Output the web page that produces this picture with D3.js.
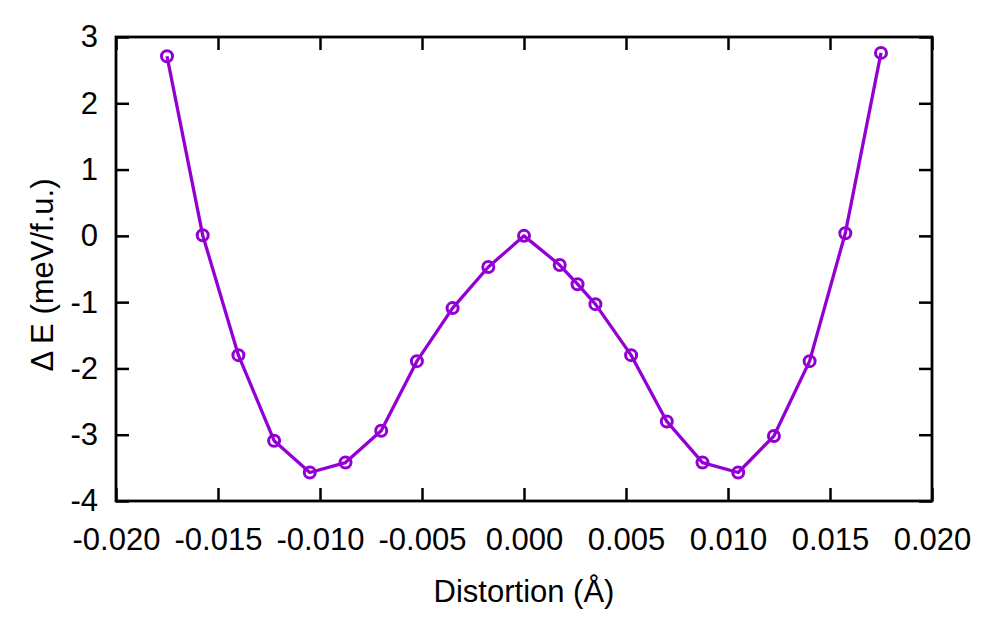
<!DOCTYPE html>
<html>
<head>
<meta charset="utf-8">
<script src="https://cdn.jsdelivr.net/npm/d3@7"></script>
<style>
  html, body { margin: 0; padding: 0; background: #fff; }
  svg { display: block; }
  text { font-family: "Liberation Sans", Arial, sans-serif; fill: #000; }
</style>
</head>
<body>
<svg id="chart" width="987" height="617"></svg>
<script>
// Data
const distortion = [-0.0175, -0.01575, -0.014, -0.01225, -0.0105, -0.00875, -0.007, -0.00525, -0.0035, -0.00175, 0,
                    0.00175, 0.002625, 0.0035, 0.00525, 0.007, 0.00875, 0.0105, 0.01225, 0.014, 0.01575, 0.0175];
const deltaE = [2.71, 0.01, -1.80, -3.09, -3.57, -3.42, -2.94, -1.89, -1.09, -0.47, 0.0,
                -0.44, -0.73, -1.03, -1.80, -2.80, -3.42, -3.57, -3.02, -1.89, 0.04, 2.76];
const xTicks = [-0.020, -0.015, -0.010, -0.005, 0.000, 0.005, 0.010, 0.015, 0.020];
const yTicks = [-4, -3, -2, -1, 0, 1, 2, 3];
const xLabel = "Distortion (Å)";
const yLabel = "Δ E (meV/f.u.)";

const svg = d3.select("#chart");
const mLeft = 116, mRight = 932, mTop = 37, mBottom = 501;
const color = "#9400d3";

const x = d3.scaleLinear().domain([-0.02, 0.02]).range([mLeft, mRight]);
const y = d3.scaleLinear().domain([-4, 3]).range([mBottom, mTop]);

const tickLen = 13;
const fs = 31;

const gx = svg.append("g").attr("transform", `translate(0,${mBottom})`)
  .call(d3.axisBottom(x).tickValues(xTicks).tickFormat(d3.format(".3f")).tickSizeInner(-tickLen).tickSizeOuter(0).tickPadding(27));
const gxTop = svg.append("g").attr("transform", `translate(0,${mTop})`)
  .call(d3.axisTop(x).tickValues(xTicks).tickFormat("").tickSizeInner(-tickLen).tickSizeOuter(0));
const gy = svg.append("g").attr("transform", `translate(${mLeft},0)`)
  .call(d3.axisLeft(y).tickValues(yTicks).tickFormat(d3.format("d")).tickSizeInner(-tickLen).tickSizeOuter(0).tickPadding(18));
const gyR = svg.append("g").attr("transform", `translate(${mRight},0)`)
  .call(d3.axisRight(y).tickValues(yTicks).tickFormat("").tickSizeInner(-tickLen).tickSizeOuter(0));

[gx, gxTop, gy, gyR].forEach(g => {
  g.select(".domain").remove();
  g.selectAll(".tick line").attr("stroke", "#000").attr("stroke-width", 2.5);
  g.selectAll(".tick text").attr("font-size", fs).attr("font-family", "Liberation Sans, Arial, sans-serif").attr("fill", "#000");
});
gx.selectAll(".tick text").text(d => d3.format(".3f")(d).replace("−", "-"));
gy.selectAll(".tick text").text(d => String(d));

svg.append("rect").attr("x", mLeft).attr("y", mTop).attr("width", mRight - mLeft).attr("height", mBottom - mTop)
  .attr("fill", "none").attr("stroke", "#000").attr("stroke-width", 2.8);

const pts = distortion.map((d, i) => [d, deltaE[i]]);
svg.append("path").datum(pts)
  .attr("d", d3.line().x(d => x(d[0])).y(d => y(d[1])))
  .attr("fill", "none").attr("stroke", color).attr("stroke-width", 3.3).attr("stroke-linejoin", "round");

svg.append("g").selectAll("circle").data(pts).join("circle")
  .attr("cx", d => x(d[0])).attr("cy", d => y(d[1])).attr("r", 5.5)
  .attr("fill", "none").attr("stroke", color).attr("stroke-width", 3);

svg.append("text").attr("x", (mLeft + mRight) / 2).attr("y", 602).attr("text-anchor", "middle")
  .attr("font-size", fs).text(xLabel);
svg.append("text").attr("transform", `translate(53,${(mTop + mBottom) / 2 + 6}) rotate(-90)`).attr("text-anchor", "middle")
  .attr("font-size", fs).text(yLabel);
</script>
</body>
</html>
